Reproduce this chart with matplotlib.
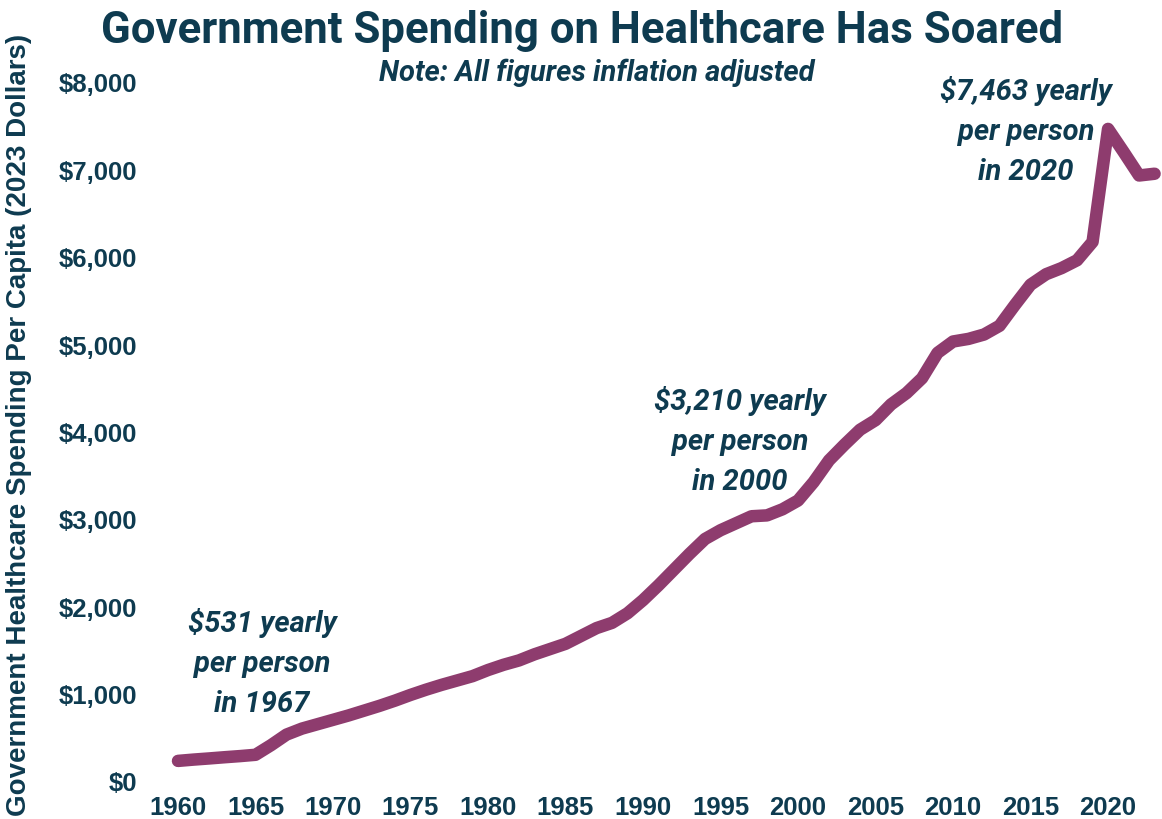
import matplotlib
matplotlib.use("Agg")
import matplotlib.pyplot as plt

years = list(range(1960, 2024))
spending = [230, 245, 258, 272, 285, 300, 410, 531, 600, 650,
            700, 750, 805, 860, 920, 985, 1045, 1100, 1150, 1200,
            1270, 1330, 1380, 1450, 1510, 1570, 1660, 1750, 1810, 1920,
            2070, 2240, 2420, 2600, 2770, 2870, 2950, 3030, 3040, 3110,
            3210, 3420, 3670, 3850, 4020, 4130, 4310, 4440, 4610, 4900,
            5030, 5060, 5110, 5210, 5450, 5680, 5800, 5870, 5960, 6170,
            7463, 7200, 6930, 6950]

xticks = list(range(1960, 2021, 5))
yticks = list(range(0, 8001, 1000))
ytick_labels = [f"${v:,}" for v in yticks]

title = "Government Spending on Healthcare Has Soared"
subtitle = "Note: All figures inflation adjusted"
ylabel = "Government Healthcare Spending Per Capita (2023 Dollars)"
annotations = [
    ("$531 yearly", "per person", "in 1967"),
    ("$3,210 yearly", "per person", "in 2000"),
    ("$7,463 yearly", "per person", "in 2020"),
]

TEXT = "#0E3B50"
LINE = "#8E3C6E"

W, H = 1162, 820
fig = plt.figure(figsize=(W / 100, H / 100), dpi=100)
ax_l, ax_r, ax_t, ax_b = 162.5, 1162, 83, 782
ax = fig.add_axes([ax_l / W, (H - ax_b) / H, (ax_r - ax_l) / W, (ax_b - ax_t) / H])

ax.plot(years, spending, color=LINE, lw=9, solid_capstyle="round",
        solid_joinstyle="round", clip_on=False)

ax.set_xlim(1959, 2023.48)
ax.set_ylim(0, 8000)
ax.set_xticks(xticks)
ax.set_xticklabels([str(x) for x in xticks])
ax.set_yticks(yticks)
ax.set_yticklabels(ytick_labels)
for s in ax.spines.values():
    s.set_visible(False)
ax.tick_params(axis="both", length=0, colors=TEXT)
ax.tick_params(axis="y", pad=18)
ax.tick_params(axis="x", pad=10)
for lab in ax.get_xticklabels() + ax.get_yticklabels():
    lab.set_fontfamily("Liberation Sans")
    lab.set_fontweight("bold")
    lab.set_fontsize(18.5)
    lab.set_color(TEXT)

ax.set_ylabel(ylabel, fontsize=20, color=TEXT, fontfamily="Liberation Sans",
              fontweight="bold")
ax.yaxis.set_label_coords((32 - ax_l) / (ax_r - ax_l), 0.511)

fig.text(0.5 * (97 + 1068) / W, 1 - 31 / H, title, ha="center", va="center",
         fontsize=31.5, fontweight="bold", fontfamily="Roboto", color=TEXT)
fig.text(597 / W, 1 - 73 / H, subtitle, ha="center", va="center",
         fontsize=21, fontweight="bold", fontstyle="italic",
         fontfamily="Roboto", color=TEXT)

px_per_val = (ax_b - ax_t) / 8000.0
px_per_year = 15.5
def to_data(xp, yp):
    return 1960 + (xp - 178) / px_per_year, (ax_b - yp) / px_per_val

anno_pos = [(262, 632), (740, 410), (1026, 100)]
for (cx, by), lines in zip(anno_pos, annotations):
    for i, line in enumerate(lines):
        x, y = to_data(cx, by + 40 * i)
        ax.text(x, y, line, ha="center", va="baseline", fontsize=21,
                fontweight="bold", fontstyle="italic", fontfamily="Roboto",
                color=TEXT)

fig.savefig("out.png", dpi=100, facecolor="white")
